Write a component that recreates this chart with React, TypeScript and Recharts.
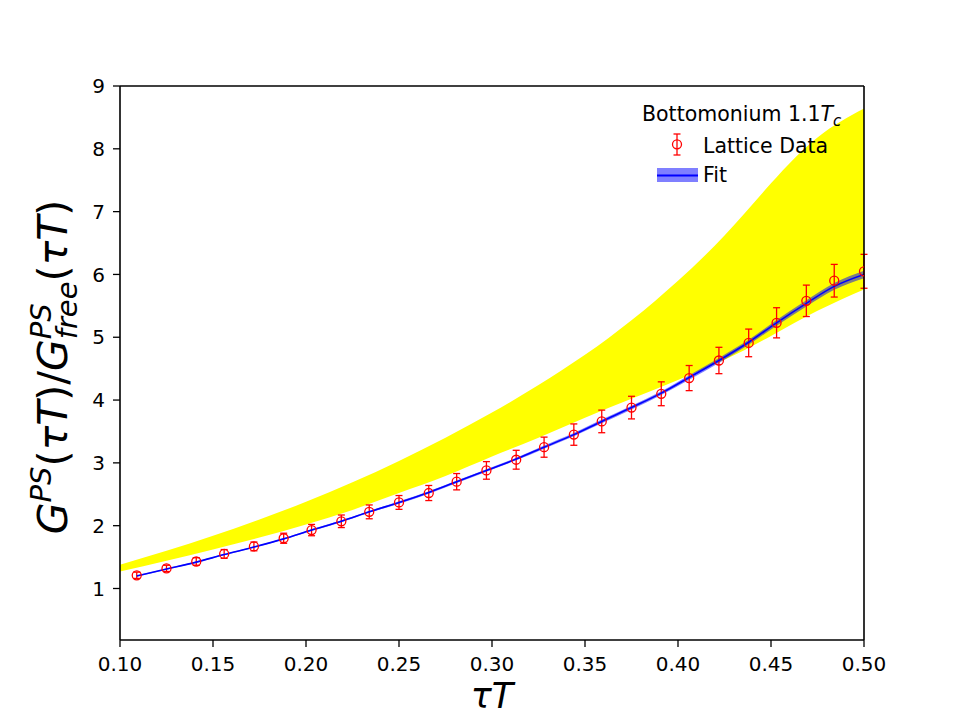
import {
  Area,
  ComposedChart,
  ErrorBar,
  Label,
  Legend,
  Line,
  ReferenceLine,
  Scatter,
  XAxis,
  YAxis,
} from "recharts";

// lattice correlator ratio with errors, tau*T = n/64
const latticeTau = [
  0.109, 0.125, 0.141, 0.156, 0.172, 0.188, 0.203, 0.219, 0.234, 0.25, 0.266, 0.281, 0.297,
  0.313, 0.328, 0.344, 0.359, 0.375, 0.391, 0.406, 0.422, 0.438, 0.453, 0.469, 0.484, 0.5,
];
const latticeRatio = [
  1.21, 1.32, 1.43, 1.55, 1.67, 1.8, 1.93, 2.07, 2.22, 2.37, 2.52, 2.7, 2.88,
  3.05, 3.25, 3.45, 3.66, 3.88, 4.1, 4.35, 4.63, 4.91, 5.23, 5.58, 5.9, 6.05,
];
const latticeErr = [
  0.05, 0.05, 0.06, 0.07, 0.07, 0.08, 0.09, 0.1, 0.11, 0.11, 0.12, 0.13, 0.14,
  0.15, 0.16, 0.17, 0.18, 0.18, 0.19, 0.2, 0.21, 0.22, 0.24, 0.25, 0.26, 0.27,
];

// fit curve and its uncertainty on the same grid
const fitRatio = [
  1.2, 1.31, 1.42, 1.54, 1.66, 1.79, 1.93, 2.07, 2.22, 2.37, 2.53, 2.7, 2.88,
  3.06, 3.25, 3.45, 3.66, 3.88, 4.11, 4.36, 4.63, 4.92, 5.23, 5.54, 5.81, 6.0,
];
const fitErr = [
  0.01, 0.01, 0.01, 0.01, 0.01, 0.01, 0.015, 0.015, 0.015, 0.02, 0.02, 0.02, 0.02,
  0.02, 0.025, 0.025, 0.03, 0.03, 0.03, 0.035, 0.04, 0.04, 0.045, 0.05, 0.055, 0.06,
];

// yellow band
const bandTau = [
  0.1, 0.125, 0.15, 0.175, 0.2, 0.225, 0.25, 0.275, 0.3, 0.325, 0.35, 0.375, 0.4, 0.425,
  0.45, 0.475, 0.5,
];
const bandLow = [
  1.27, 1.44, 1.62, 1.81, 2.02, 2.25, 2.52, 2.79, 3.1, 3.4, 3.72, 4.02, 4.32, 4.64,
  5.02, 5.42, 5.76,
];
const bandHigh = [
  1.38, 1.6, 1.84, 2.1, 2.38, 2.69, 3.03, 3.4, 3.8, 4.24, 4.72, 5.27, 5.9, 6.62,
  7.45, 8.18, 8.64,
];

const xTicks = [0.1, 0.15, 0.2, 0.25, 0.3, 0.35, 0.4, 0.45, 0.5];
const yTicks = [1, 2, 3, 4, 5, 6, 7, 8, 9];
const yDomain: [number, number] = [0.18, 9.0];

type Row = {
  tau: number;
  band?: [number, number];
  fit?: number;
  fitRange?: [number, number];
};

const rowMap = new Map<string, Row>();
const rowAt = (tau: number) => {
  const key = tau.toFixed(4);
  if (!rowMap.has(key)) rowMap.set(key, { tau });
  return rowMap.get(key)!;
};
bandTau.forEach((t, i) => {
  rowAt(t).band = [bandLow[i], bandHigh[i]];
});
latticeTau.forEach((t, i) => {
  const r = rowAt(t);
  r.fit = fitRatio[i];
  r.fitRange = [fitRatio[i] - fitErr[i], fitRatio[i] + fitErr[i]];
});
const rows = [...rowMap.values()].sort((a, b) => a.tau - b.tau);

const points = latticeTau.map((t, i) => ({
  tau: t,
  ratio: latticeRatio[i],
  err: latticeErr[i],
}));

const font = "DejaVu Sans";
const tickStyle = { fill: "#000", fontSize: 20, fontFamily: font };

function XTitle(props: any) {
  const vb = props.viewBox ?? { x: 120, y: 640, width: 744 };
  return (
    <text
      x={vb.x + vb.width / 2}
      y={vb.y + 68}
      textAnchor="middle"
      fontSize={35}
      fontFamily={font}
      fontStyle="italic"
      fill="#000"
    >
      τT
    </text>
  );
}

function YTitle(props: any) {
  const vb = props.viewBox ?? { x: 0, y: 86, width: 120, height: 554 };
  const cx = 67;
  const cy = vb.y + vb.height / 2 + 4;
  return (
    <text
      x={cx}
      y={cy}
      transform={`rotate(-90, ${cx}, ${cy})`}
      textAnchor="middle"
      fontSize={41}
      fontFamily={font}
      fill="#000"
    >
      <tspan fontStyle="italic">G</tspan>
      <tspan fontStyle="italic" fontSize={29} dy={-16}>PS</tspan>
      <tspan dy={16}>(</tspan>
      <tspan fontStyle="italic">τT</tspan>
      <tspan>)/</tspan>
      <tspan fontStyle="italic">G</tspan>
      <tspan fontStyle="italic" fontSize={29} dy={-16}>PS</tspan>
      <tspan fontStyle="italic" fontSize={29} dx={-36} dy={26}>free</tspan>
      <tspan dy={-10}>(</tspan>
      <tspan fontStyle="italic">τT</tspan>
      <tspan>)</tspan>
    </text>
  );
}

function FigureLegend() {
  return (
    <svg width={240} height={100} style={{ display: "block" }}>
      <text x={12} y={26} fontSize={20.5} fontFamily={font} fill="#000">
        Bottomonium 1.1
        <tspan fontStyle="italic">T</tspan>
        <tspan fontStyle="italic" fontSize={15} dy={5}>c</tspan>
      </text>
      <g stroke="#ff0000" strokeWidth={1.3} fill="none">
        <line x1={47} x2={47} y1={39} y2={60} />
        <line x1={43.5} x2={50.5} y1={39} y2={39} />
        <line x1={43.5} x2={50.5} y1={60} y2={60} />
        <circle cx={47} cy={49.3} r={4.5} />
      </g>
      <text x={73} y={58} fontSize={20.5} fontFamily={font} fill="#000">
        Lattice Data
      </text>
      <rect x={27} y={73} width={41} height={14} fill="#0000ff" fillOpacity={0.5} />
      <line x1={27} x2={68} y1={80.5} y2={80.5} stroke="#0000ff" strokeWidth={2} />
      <text x={73} y={87} fontSize={20.5} fontFamily={font} fill="#000">
        Fit
      </text>
    </svg>
  );
}

export default function App() {
  return (
    <div
      style={{
        position: "absolute",
        left: 0,
        top: 0,
        width: 960,
        height: 720,
        background: "#fff",
      }}
    >
      <ComposedChart
        width={960}
        height={720}
        data={rows}
        margin={{ top: 86, right: 96, bottom: 0, left: 0 }}
      >
        <XAxis
          dataKey="tau"
          type="number"
          domain={[0.1, 0.5]}
          ticks={xTicks}
          allowDataOverflow
          tickFormatter={(v: number) => v.toFixed(2)}
          height={80}
          tickSize={7}
          tickMargin={10}
          tick={tickStyle}
          axisLine={{ stroke: "#000", strokeWidth: 1.6 }}
          tickLine={{ stroke: "#000", strokeWidth: 1.3 }}
        >
          <Label content={<XTitle />} />
        </XAxis>
        <YAxis
          type="number"
          domain={yDomain}
          ticks={yTicks}
          allowDataOverflow
          width={120}
          tickSize={7}
          tickMargin={8}
          tick={tickStyle}
          axisLine={{ stroke: "#000", strokeWidth: 1.6 }}
          tickLine={{ stroke: "#000", strokeWidth: 1.3 }}
        >
          <Label content={<YTitle />} />
        </YAxis>
        <Area
          dataKey="band"
          type="natural"
          stroke="none"
          fill="#ffff00"
          fillOpacity={1}
          connectNulls
          isAnimationActive={false}
        />
        <Scatter
          data={points}
          dataKey="ratio"
          isAnimationActive={false}
          shape={(p: any) => (
            <circle cx={p.cx} cy={p.cy} r={4.5} fill="none" stroke="#ff0000" strokeWidth={1.3} />
          )}
        >
          <ErrorBar dataKey="err" direction="y" width={3.5} stroke="#ff0000" strokeWidth={1.3} />
        </Scatter>
        <Area
          dataKey="fitRange"
          type="monotone"
          stroke="none"
          fill="#0000ff"
          fillOpacity={0.5}
          connectNulls
          isAnimationActive={false}
        />
        <Line
          dataKey="fit"
          type="monotone"
          stroke="#0000ff"
          strokeWidth={1.6}
          dot={false}
          connectNulls
          isAnimationActive={false}
        />
        <ReferenceLine y={yDomain[1]} stroke="#000" strokeWidth={1.6} />
        <ReferenceLine x={0.5} stroke="#000" strokeWidth={1.6} />
        <Legend
          layout="horizontal"
          verticalAlign="middle"
          align="center"
          wrapperStyle={{ left: 630, top: 95, width: 240 }}
          content={() => <FigureLegend />}
        />
      </ComposedChart>
    </div>
  );
}
